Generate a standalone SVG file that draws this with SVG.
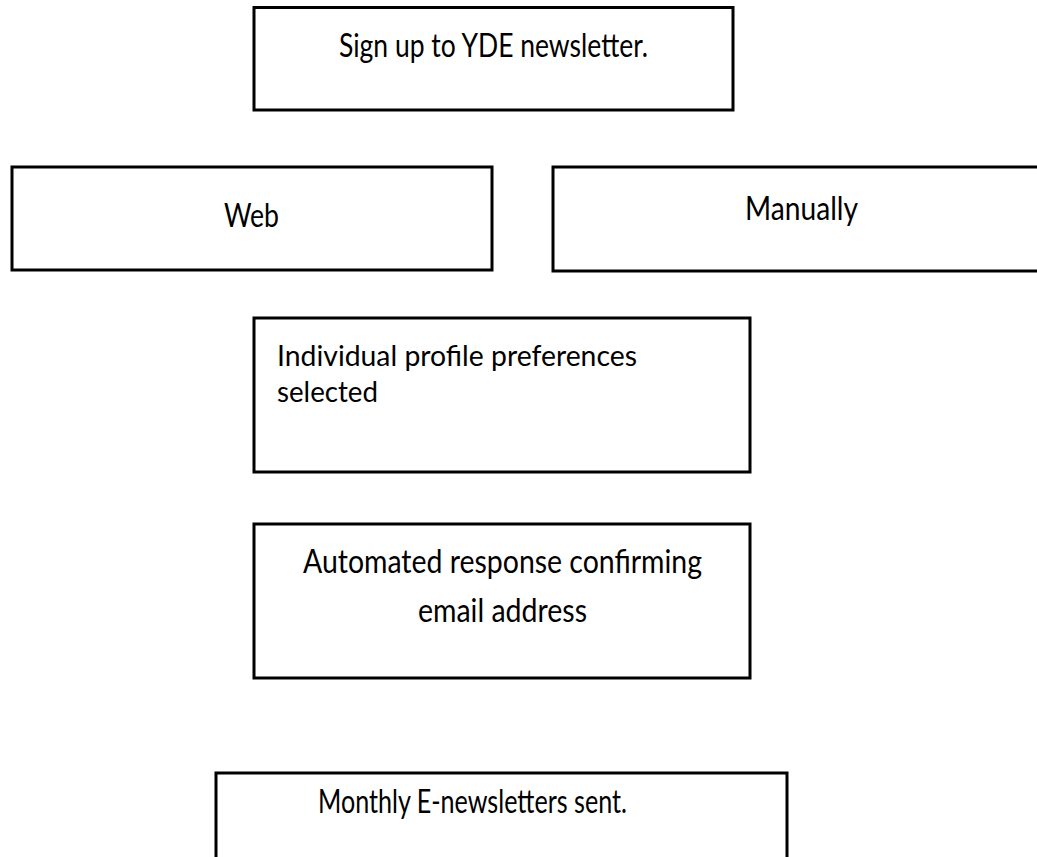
<svg xmlns="http://www.w3.org/2000/svg" width="1037" height="857" viewBox="0 0 1037 857">
  <style>
    .box { fill: #ffffff; stroke: #000000; stroke-width: 3; }
    .lbl { font-family: Lato, "Liberation Sans", sans-serif; font-size: 33px; fill: #000000; }
    .sm { font-size: 29.5px; }
  </style>
  <rect x="0" y="0" width="1037" height="857" fill="#ffffff"/>
  <g id="connectors"></g>
  <g id="node-signup">
    <rect class="box" x="254" y="7.5" width="479" height="102.5"/>
    <text class="lbl" x="339" y="57" textLength="309" lengthAdjust="spacingAndGlyphs">Sign up to YDE newsletter.</text>
  </g>
  <g id="node-web">
    <rect class="box" x="12" y="167" width="480" height="103"/>
    <text class="lbl" x="224" y="227" textLength="55" lengthAdjust="spacingAndGlyphs">Web</text>
  </g>
  <g id="node-manually">
    <rect class="box" x="553" y="167" width="500" height="104"/>
    <text class="lbl" x="745" y="220" textLength="113" lengthAdjust="spacingAndGlyphs">Manually</text>
  </g>
  <g id="node-profile">
    <rect class="box" x="254" y="318" width="496" height="154"/>
    <text class="lbl sm" x="277" y="366" textLength="360" lengthAdjust="spacingAndGlyphs">Individual profile preferences</text>
    <text class="lbl sm" x="277" y="402" textLength="101" lengthAdjust="spacingAndGlyphs">selected</text>
  </g>
  <g id="node-confirm">
    <rect class="box" x="254" y="524" width="496" height="154"/>
    <text class="lbl" x="303" y="573" textLength="399" lengthAdjust="spacingAndGlyphs">Automated response confirming</text>
    <text class="lbl" x="418" y="622" textLength="169" lengthAdjust="spacingAndGlyphs">email address</text>
  </g>
  <g id="node-monthly">
    <rect class="box" x="216" y="773" width="571" height="120"/>
    <text class="lbl" x="318" y="813" textLength="309" lengthAdjust="spacingAndGlyphs">Monthly E-newsletters sent.</text>
  </g>
</svg>
